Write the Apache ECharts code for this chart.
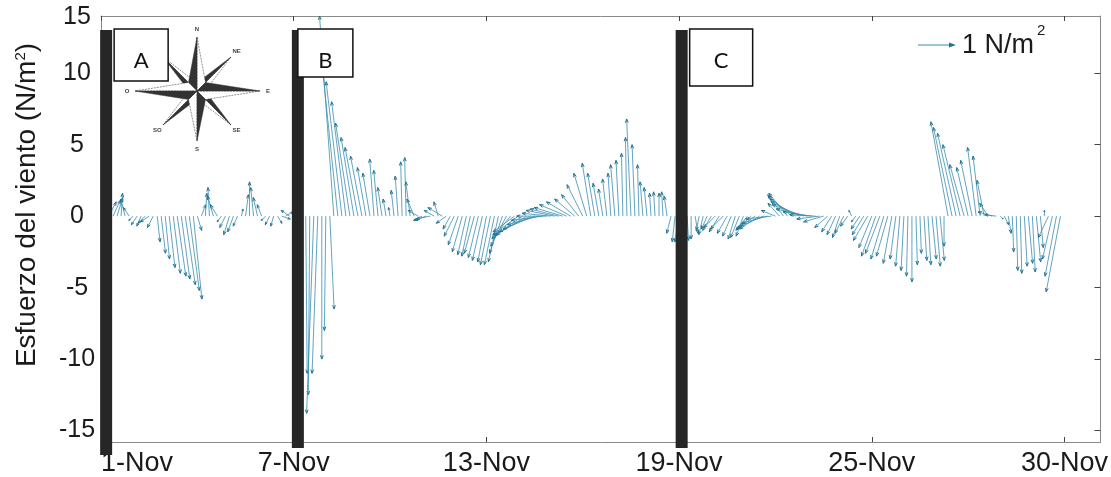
<!DOCTYPE html>
<html>
<head>
<meta charset="utf-8">
<script src="https://cdn.jsdelivr.net/npm/echarts@6/dist/echarts.min.js"></script>
<style>html,body{margin:0;padding:0;background:#fff}#c{width:1111px;height:477px}</style>
</head>
<body>
<div id="c"></div>
<script>
// ---------- DATA ----------
const startDay = 1;          // first sample: 1-Nov 00:00
const samplesPerDay = 8;     // 3-hourly wind stress sticks

// northward component (N/m2), one row per day
const vComp = [
  0.5, 0.8, 1.0, 1.1, 1.3, 1.6, 1.2, 0.6,
  -0.3, -0.6, -0.7, -0.5, -0.4, -0.8, -1.8, -2.6,
  -3.0, -3.6, -4.0, -4.2, -4.4, -4.8, -5.2, -5.8,
  -1.0, 0.8, 1.6, 2.0, 1.4, 0.8, -0.4, -0.8,
  -1.3, -1.1, -0.7, 0.5, 1.5, 2.4, 2.0, 1.3,
  0.8, -0.3, -0.6, -0.7, -0.5, -0.2, 0.3, 0.4,
  -2.0, -5.0, -9.0, -11.0, -12.5, -13.8, -11.0, -10.0,
  -8.0, -6.5, 14.0, 11.5, 9.4, 8.0, 6.5, 5.5,
  4.8, 4.2, 3.4, 3.0, 4.0, 3.2, 2.0, 1.2,
  0.6, 1.8, 2.8, 3.8, 4.1, 2.4, 1.2, 0.4,
  -0.3, -0.3, -0.2, 0.4, 1.0, 0.6, -0.5, -0.9,
  -1.4, -2.0, -2.5, -2.7, -2.8, -2.6, -2.9, -3.1,
  -3.2, -3.4, -3.4, -3.2, -2.6, -2.1, -1.6, -1.1,
  -1.3, -1.4, -1.3, -1.1, -0.9, -0.6, -0.3, 0.0,
  0.2, 0.4, 0.5, 0.6, 0.8, 1.0, 1.2, 1.5,
  2.2, 3.0, 3.7, 3.0, 2.3, 1.9, 2.6, 3.0,
  3.6, 3.9, 4.4, 5.5, 6.8, 5.0, 3.6, 2.4,
  2.0, 1.6, 1.7, 1.6, 1.7, 1.4, -1.2, -1.8,
  -1.8, -1.5, -1.7, -1.6, -1.2, -1.0, -1.3, -0.9,
  -1.0, -0.8, -1.1, -0.9, -1.2, -1.4, -1.6, -1.5,
  -1.4, -1.0, -0.9, -0.8, -0.9, -0.7, -0.5, -0.2,
  0.4, 0.9, 1.5, 1.6, 1.4, 1.2, 1.0, 0.8,
  0.5, 0.3, 0.1, -0.2, -0.4, -0.8, -1.1, -1.3,
  -1.5, -1.2, -0.7, 0.4, -0.4, -0.9, -1.3, -1.7,
  -2.2, -2.8, -2.6, -3.0, -2.8, -3.3, -3.0, -3.5,
  -3.8, -4.2, -4.6, -3.4, -2.6, -3.1, -3.4, -3.0,
  -3.5, -3.1, -2.1, 6.6, 6.2, 5.8, 5.0, 3.6,
  3.4, 3.9, 4.8, 4.2, 2.5, 0.9, 0.3, 0.1,
  -0.2, -0.6, -1.2, -2.5, -3.8, -4.0, -3.5, -3.3,
  -3.9, -3.2, -2.2, 0.4, -1.5, -3.0, -4.2, -5.3
];
// eastward component (N/m2), one row per day
const uComp = [
  0.3, 0.4, 0.5, 0.5, 0.4, 0.1, -0.3, -0.4,
  -0.3, -0.4, -0.3, -0.5, -0.6, -0.4, 0.2, 0.3,
  0.3, 0.4, 0.5, 0.6, 0.6, 0.7, 0.7, 0.6,
  0.3, 0.3, 0.1, -0.1, -0.4, -0.5, -0.3, -0.4,
  -0.4, -0.4, -0.3, 0.1, 0.2, 0.0, -0.2, -0.3,
  -0.3, -0.3, -0.3, -0.2, 0.3, 0.6, 0.5, -0.6,
  0.0, -0.2, -0.3, 0.1, -0.1, -0.5, -0.4, 0.0,
  -0.1, 0.3, -1.0, -1.2, -1.1, -1.0, -1.0, -0.9,
  -0.9, -0.8, -0.6, -0.5, -0.3, -0.3, -0.3, -0.2,
  -0.1, -0.2, -0.2, -0.1, -0.1, -0.3, -0.5, -0.7,
  -0.6, -0.8, -1.0, -0.7, -0.3, -1.0, -0.7, -0.5,
  -0.7, -0.7, -0.7, -0.6, -0.6, -0.7, -0.7, -0.7,
  -0.6, -0.7, -0.7, -0.7, -0.9, -1.1, -1.3, -1.5,
  -1.8, -2.0, -2.1, -2.2, -2.2, -2.2, -2.2, -2.1,
  -2.0, -2.0, -2.0, -2.0, -1.9, -1.7, -1.4, -1.2,
  -1.1, -0.9, -0.6, -0.5, -0.4, -0.3, -0.3, -0.2,
  -0.3, -0.2, -0.1, -0.1, -0.3, -0.2, -0.1, -0.2,
  -0.2, -0.1, -0.1, 0.0, -0.1, -0.2, -0.3, -0.2,
  -0.3, -0.2, 0.1, 0.0, 0.2, -0.2, -0.3, -0.4,
  -0.6, -0.8, -0.7, -0.9, -0.7, -0.6, -0.5, -0.6,
  -0.5, -0.8, -1.0, -1.2, -1.4, -1.6, -1.8, -1.8,
  -1.0, -0.8, -1.1, -1.3, -1.6, -1.8, -2.0, -2.2,
  -2.2, -2.0, -1.8, -1.6, -1.4, -0.9, -0.7, -0.6,
  -0.5, -0.6, -0.5, -0.2, -0.3, -0.6, -0.8, -1.0,
  -0.9, -1.0, -1.0, -0.9, -0.8, -0.6, -0.4, -0.3,
  -0.2, -0.1, 0.0, 0.1, 0.1, 0.2, 0.2, 0.3,
  0.3, 0.3, 0.0, -1.2, -1.3, -1.3, -1.2, -1.0,
  -0.8, -0.8, -0.6, -0.5, -0.5, -0.6, -1.0, -0.8,
  0.2, 0.3, 0.2, 0.1, 0.1, 0.1, 0.2, 0.3,
  0.2, 0.3, 0.2, 0.0, -0.7, -0.7, -0.8, -1.0
];

const tickDays = [1, 7, 13, 19, 25, 31];
const tickLabels = ['1-Nov', '7-Nov', '13-Nov', '19-Nov', '25-Nov', '30-Nov'];
const yTickValues = [-15, -10, -5, 0, 5, 10];
const topTickLabel = '15';

const eventDays = [1.16, 7.13, 19.08];
const eventLabels = ['A', 'B', 'C'];

const yTitle = 'Esfuerzo del viento (N/m';
const legendText = '1 N/m';

// ---------- STYLE ----------
const FONT = 'Liberation Sans, Arial, sans-serif';
const STICK = '#3a8db0';
const HEAD = '#23718f';
const FRAME = '#8a8a8a';
const boxStyle = {
  A: { dx: 8, w: 54, h: 52, ext: 13 },
  B: { dx: 0, w: 55, h: 48, ext: 6 },
  C: { dx: 8, w: 63, h: 57, ext: 6 }
};

const stickData = vComp.map((v, i) => [startDay + i / samplesPerDay, uComp[i], v]);
const eventData = eventDays.map((d, i) => [d, eventLabels[i]]);

function renderStick(params, api) {
  const t = api.value(0), u = api.value(1), v = api.value(2);
  const base = api.coord([t, 0]);
  const unit = api.size([0, 1])[1];
  const tip = [base[0] + u * unit, base[1] - v * unit];
  const dx = tip[0] - base[0], dy = tip[1] - base[1];
  const len = Math.sqrt(dx * dx + dy * dy);
  const children = [{
    type: 'polyline', shape: { points: [base, tip] },
    style: { stroke: STICK, lineWidth: 0.8, fill: null }
  }];
  if (len > 2) {
    const ang = Math.atan2(dy, dx);
    const h = Math.min(4, len * 0.3);
    const p1 = [tip[0] - h * Math.cos(ang - 0.35), tip[1] - h * Math.sin(ang - 0.35)];
    const p2 = [tip[0] - h * Math.cos(ang + 0.35), tip[1] - h * Math.sin(ang + 0.35)];
    children.push({
      type: 'polyline', shape: { points: [p1, tip, p2] },
      style: { stroke: HEAD, lineWidth: 1, fill: null }
    });
  }
  return { type: 'group', children };
}

function renderEvent(params, api) {
  const cs = params.coordSys;
  const cx = api.coord([api.value(0), 0])[0];
  const lab = eventLabels[params.dataIndex];
  const bs = boxStyle[lab];
  const top = cs.y + 14;
  const bottom = cs.y + cs.height + bs.ext;
  const bx = cx + bs.dx;
  const by = cs.y + 13;
  return {
    type: 'group',
    children: [
      { type: 'rect', shape: { x: cx - 6, y: top, width: 12, height: bottom - top }, style: { fill: '#262626' } },
      { type: 'rect', shape: { x: bx, y: by, width: bs.w, height: bs.h }, style: { fill: '#fff', stroke: '#111', lineWidth: 1.5 } },
      { type: 'text', x: bx + bs.w / 2, y: by + 32, style: { text: lab, fontSize: 22, fontFamily: 'Lato, Open Sans, sans-serif', fill: '#111', align: 'center', verticalAlign: 'middle' } }
    ]
  };
}

function compass(cx, cy) {
  const pts = [
    { a: -45, r: 48, w: 8, lab: 'NE' }, { a: 45, r: 48, w: 8, lab: 'SE' },
    { a: 135, r: 48, w: 8, lab: 'SO' }, { a: -135, r: 48, w: 8, lab: 'NO' },
    { a: -90, r: 54, w: 12, lab: 'N' }, { a: 0, r: 63, w: 12, lab: 'E' },
    { a: 90, r: 50, w: 12, lab: 'S' }, { a: 180, r: 62, w: 12, lab: 'O' }
  ];
  const out = [];
  const rad = d => d * Math.PI / 180;
  pts.forEach(p => {
    const tip = [cx + p.r * Math.cos(rad(p.a)), cy + p.r * Math.sin(rad(p.a))];
    const sL = [cx + p.w * Math.cos(rad(p.a - 45)), cy + p.w * Math.sin(rad(p.a - 45))];
    const sR = [cx + p.w * Math.cos(rad(p.a + 45)), cy + p.w * Math.sin(rad(p.a + 45))];
    out.push({ type: 'polygon', shape: { points: [[cx, cy], tip, sR] }, style: { fill: '#fff', stroke: '#444', lineWidth: 0.6, lineDash: [2, 1] } });
    out.push({ type: 'polygon', shape: { points: [[cx, cy], sL, tip] }, style: { fill: '#333', stroke: '#333', lineWidth: 0.5 } });
    const lr = p.r + 8;
    out.push({ type: 'text', x: cx + lr * Math.cos(rad(p.a)), y: cy + lr * Math.sin(rad(p.a)),
      style: { text: p.lab, fontSize: 6, fontWeight: 'bold', fontFamily: FONT, fill: '#444', align: 'center', verticalAlign: 'middle' } });
  });
  return out;
}

const chart = echarts.init(document.getElementById('c'), null, { renderer: 'canvas' });
chart.setOption({
  animation: false,
  backgroundColor: '#fff',
  grid: { left: 101, right: 10, top: 16, bottom: 35 },
  xAxis: [{
    type: 'value', min: 1, max: 32.12, position: 'bottom',
    axisLine: { show: true, onZero: false, lineStyle: { color: FRAME, width: 1 } },
    axisTick: { show: true, inside: true, length: 5, customValues: tickDays, lineStyle: { color: '#444' } },
    axisLabel: { show: true, customValues: tickDays, margin: 8, fontSize: 27, fontFamily: FONT, color: '#1a1a1a',
      alignMinLabel: 'left',
      formatter: v => tickLabels[tickDays.indexOf(v)] || '' },
    splitLine: { show: false }
  }, {
    type: 'value', min: 1, max: 32.12, position: 'top',
    axisLine: { show: true, onZero: false, lineStyle: { color: FRAME, width: 1 } },
    axisTick: { show: true, inside: true, length: 5, customValues: tickDays, lineStyle: { color: '#444' } },
    axisLabel: { show: false }, splitLine: { show: false }
  }],
  yAxis: [{
    type: 'value', min: -15.8, max: 14, position: 'left',
    axisLine: { show: true, onZero: false, lineStyle: { color: FRAME } },
    axisTick: { show: false },
    axisLabel: { customValues: yTickValues, margin: 24, align: 'center', fontSize: 25, fontFamily: FONT, color: '#1a1a1a' },
    splitLine: { show: false }
  }, {
    type: 'value', min: -15.8, max: 14, position: 'right',
    axisLine: { show: true, onZero: false, lineStyle: { color: FRAME } },
    axisTick: { show: true, inside: true, length: 6, customValues: yTickValues, lineStyle: { color: '#444' } },
    axisLabel: { show: false }, splitLine: { show: false }
  }],
  graphic: [
    { type: 'group', children: compass(197, 91), z: 0 },
    { type: 'text', x: 77, y: 17, style: { text: topTickLabel, fontSize: 25, fontFamily: FONT, fill: '#1a1a1a', align: 'center', verticalAlign: 'middle' } },
    { type: 'text', x: 27, y: 205, rotation: Math.PI / 2,
      style: { text: '{m|' + yTitle + '}{s|2}{m|)}', align: 'center', verticalAlign: 'middle',
        rich: { m: { fontSize: 28, fontFamily: FONT, fill: '#1a1a1a' }, s: { fontSize: 15, fontFamily: FONT, fill: '#1a1a1a', verticalAlign: 'top' } } } },
    { type: 'line', shape: { x1: 918, y1: 45, x2: 953, y2: 45 }, style: { stroke: STICK, lineWidth: 1.2 } },
    { type: 'polygon', shape: { points: [[956, 45], [949, 42.5], [949, 47.5]] }, style: { fill: HEAD } },
    { type: 'text', x: 962, y: 46, style: { text: legendText, fontSize: 27, fontFamily: FONT, fill: '#1a1a1a', align: 'left', verticalAlign: 'middle' } },
    { type: 'text', x: 1037, y: 31, style: { text: '2', fontSize: 15, fontFamily: FONT, fill: '#1a1a1a', align: 'left', verticalAlign: 'middle' } }
  ],
  series: [{
    type: 'custom', name: 'stress', xAxisIndex: 0, yAxisIndex: 0,
    data: stickData, renderItem: renderStick, z: 2, silent: true
  }, {
    type: 'custom', name: 'events', xAxisIndex: 0, yAxisIndex: 0,
    data: eventData, renderItem: renderEvent, z: 5, clip: false, silent: true
  }]
});
</script>
</body>
</html>
